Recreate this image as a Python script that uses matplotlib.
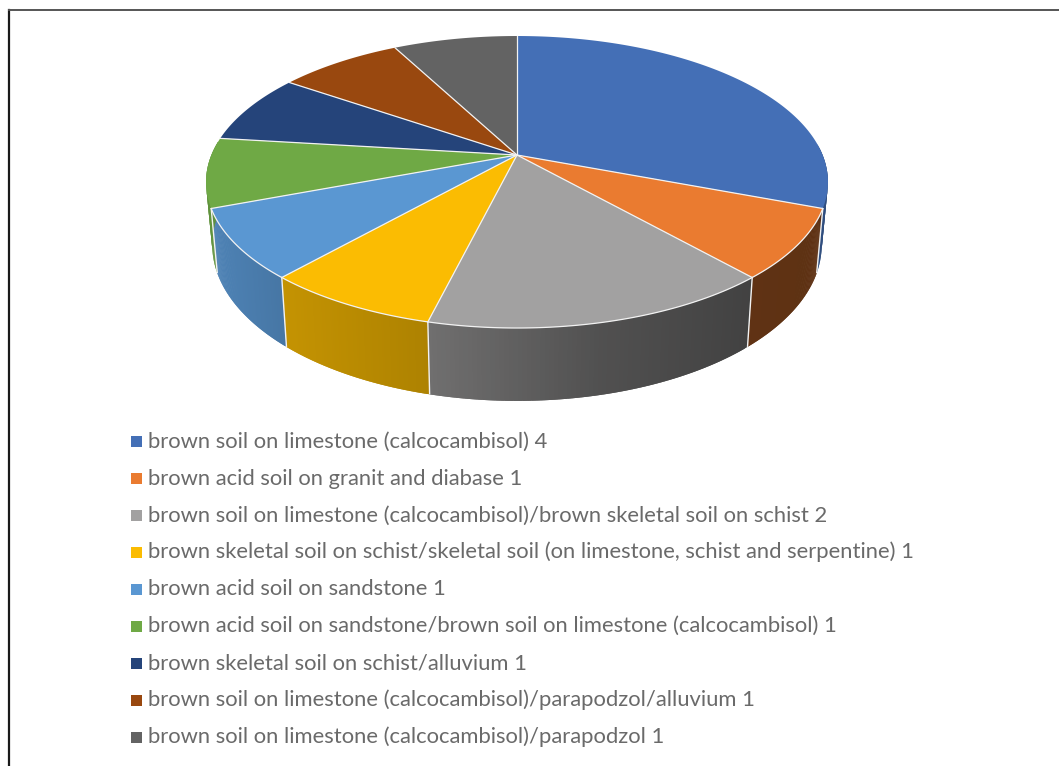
import numpy as np
import matplotlib
matplotlib.use('Agg')
import matplotlib.pyplot as plt
from matplotlib.collections import PolyCollection

labels = ['brown soil on limestone (calcocambisol)',
          'brown acid soil on granit and diabase',
          'brown soil on limestone (calcocambisol)/brown skeletal soil on schist',
          'brown skeletal soil on schist/skeletal soil (on limestone, schist and serpentine)',
          'brown acid soil on sandstone',
          'brown acid soil on sandstone/brown soil on limestone (calcocambisol)',
          'brown skeletal soil on schist/alluvium',
          'brown soil on limestone (calcocambisol)/parapodzol/alluvium',
          'brown soil on limestone (calcocambisol)/parapodzol']
values = [4, 1, 2, 1, 1, 1, 1, 1, 1]
colors = ['#446fb6', '#ea7b30', '#a2a1a1', '#fbbc02', '#5a97d2',
          '#6fa945', '#25447a', '#99480f', '#636363']

# perspective of the disc, in pixels
cx = 517
k = 0.185
rx = 305.6
top_cy, top_ry = 155, 141
bot_cy, bot_ry = 216, 150.7
bot_shrink = 0.98

# wall shading goes darker from left to right
shade_x = [205, 285, 430, 600, 750, 830]
shade_f = [0.87, 0.78, 0.69, 0.50, 0.41, 0.40]


def top_rim(t):
    w = 1 + k*np.cos(t)
    return cx + rx*np.sin(t)/w, top_cy - top_ry*np.cos(t)/w


def bot_rim(t):
    w = 1 + k*np.cos(t)
    return cx + bot_shrink*rx*np.sin(t)/w, bot_cy - bot_ry*np.cos(t)/w


plt.rcParams['font.family'] = ['Lato', 'DejaVu Sans']

fig = plt.figure(figsize=(10.59, 7.66), dpi=100)
ax = fig.add_axes([0, 0, 1, 1])
ax.set_xlim(0, 1059)
ax.set_ylim(766, 0)
ax.axis('off')

# frame of the chart, only left and top are in the picture
ax.plot([8.5, 8.5], [9.5, 766], color='#1a1a1a', lw=1.6)
ax.plot([8.5, 1059], [9.5, 9.5], color='#555555', lw=1.4)

edges = 2*np.pi*np.cumsum([0] + values)/sum(values)

# walls first, the back part is hidden anyway so leave it out
for i in range(len(values)):
    t = np.linspace(edges[i], edges[i+1], 80)
    t = t[np.cos(t) < 0.1]
    if len(t) < 3:
        continue
    xt, yt = top_rim(t)
    xb, yb = bot_rim(t)
    polys = []
    cols = []
    base = np.array(matplotlib.colors.to_rgb(colors[i]))
    for j in range(len(t)-1):
        # each strip reaches under the next one so no seams show
        n = min(j+2, len(t)-1)
        polys.append([(xt[j], yt[j]), (xt[n], yt[n]), (xb[n], yb[n]), (xb[j], yb[j])])
        f = np.interp((xt[j]+xt[j+1])/2, shade_x, shade_f)
        if i == 0:
            f = 0.7  # the thin sliver of the first slice is paler
        cols.append(base*f)
    ax.add_collection(PolyCollection(polys, facecolors=cols, edgecolors='none', linewidths=0))

for e in edges[1:]:
    xt, yt = top_rim(e)
    xb, yb = bot_rim(e)
    if np.cos(e) < 0:
        ax.plot([xt, xb], [yt, yb], color='#f2f2f2', lw=1.0, solid_capstyle='butt')

# top of the disc
for i in range(len(values)):
    t = np.linspace(edges[i], edges[i+1], 120)
    xt, yt = top_rim(t)
    ax.fill(np.r_[cx, xt], np.r_[top_cy, yt], facecolor=colors[i], edgecolor='none')
for i in range(len(values)):
    t = np.linspace(edges[i], edges[i+1], 120)
    xt, yt = top_rim(t)
    ax.plot([cx, xt[0]], [top_cy, yt[0]], color='#f2f2f2', lw=0.9)
    # white rim only on the four slices at the front
    if 1 <= i <= 4:
        ax.plot(xt, yt, color='#f2f2f2', lw=0.9)

# legend rows, written by hand because ax.legend spaces them unevenly
fs = 15.85
for i in range(len(labels)):
    y = 441 + 36.95*i
    ax.scatter([135.5], [y], marker='s', s=(11*0.72)**2, color=colors[i], linewidths=0)
    ax.text(148, y+6.6, labels[i] + ' ' + str(values[i]), fontsize=fs, color='#6a6a6a', va='baseline')

fig.savefig('out.png', dpi=100)
